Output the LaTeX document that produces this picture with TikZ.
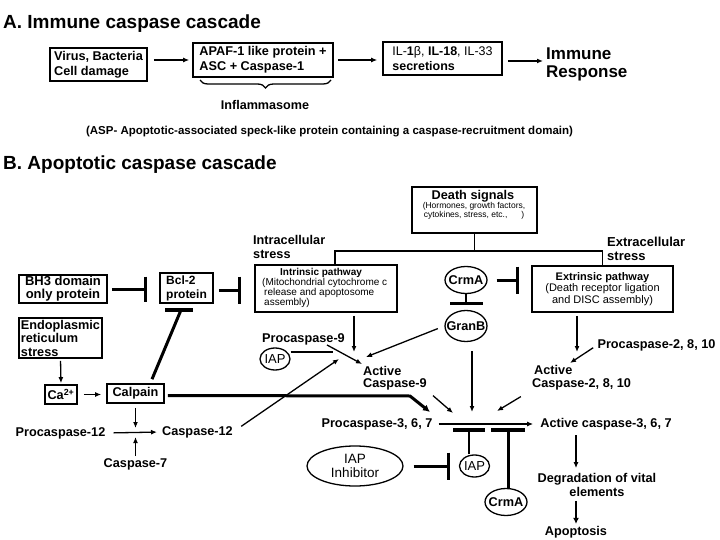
\documentclass[tikz,border=0pt]{standalone}
\usepackage{fontspec}
\setmainfont{Liberation Sans}
\usetikzlibrary{arrows.meta,shapes.geometric,decorations.pathreplacing}
\begin{document}
\begin{tikzpicture}[x=1pt,y=-1pt,
  txt/.style={inner sep=0pt, font=\fontsize{12.7}{14}\selectfont\bfseries},
  reg/.style={inner sep=0pt, font=\fontsize{13}{14}\selectfont},
  box/.style={draw, line width=1.6pt, inner sep=0pt},
  ln/.style={line width=1.3pt},
  arr/.style={line width=1.3pt, -{Latex[length=6pt,width=5pt]}},
  inh/.style={line width=3pt},
  ovl/.style={draw, ellipse, line width=1.3pt, inner sep=0pt}]
\useasboundingbox (0,0) rectangle (720,540);
% ---------- A ----------
\node[anchor=base west, inner sep=0pt, font=\fontsize{19}{20}\selectfont\bfseries] (tA) at (3,29) {A. Immune caspase cascade};
\node[box, txt, font=\fontsize{12.7}{15}\selectfont\bfseries, minimum width=97pt, minimum height=33pt, align=left] (virus) at (98.5,64.5) {Virus, Bacteria\\Cell damage};
\node[box, txt, font=\fontsize{12.7}{15}\selectfont\bfseries, minimum width=140pt, minimum height=34pt, align=left] (apaf) at (263,60) {APAF-1 like protein +\\ASC + Caspase-1};
\node[box, reg, font=\fontsize{12.5}{14.5}\selectfont, minimum width=119pt, minimum height=33pt, align=left] (il) at (442.5,58.5) {IL-\textbf{1}β, \textbf{IL-18}, IL-33\\\textbf{secretions}};
\node[inner sep=0pt, font=\fontsize{17}{18}\selectfont\bfseries, anchor=west, align=left] (immune) at (546,64) {Immune\\Response};
\draw[arr, shorten <=6pt, shorten >=3pt] (virus.east |- apaf.west) -- (apaf.west);
\draw[arr, shorten <=4pt, shorten >=5pt] (apaf.east) -- (apaf.east -| il.west);
\draw[arr, shorten <=5pt, shorten >=3pt] ([yshift=-2.5pt]il.east) -- ([yshift=-2.5pt]il.east -| immune.west);
\draw[line width=1.3pt, decorate, decoration={brace, mirror, amplitude=8pt}] (200,80) -- (331,80);
\node[txt, font=\fontsize{12.6}{14}\selectfont\bfseries] (infl) at (265,105) {Inflammasome};
\node[txt, font=\fontsize{11.5}{13}\selectfont\bfseries] (asp) at (329.5,132) {(ASP- Apoptotic-associated speck-like protein containing a caspase-recruitment domain)};
% ---------- B ----------
\node[anchor=base west, inner sep=0pt, font=\fontsize{19}{20}\selectfont\bfseries] (tB) at (3,170) {B. Apoptotic caspase cascade};
\node[box, minimum width=125pt, minimum height=46pt] (death) at (474.5,210) {};
\node[txt] (dtitle) at (473,196) {Death signals};
\node[inner sep=0pt, align=center, font=\fontsize{8.5}{8.5}\selectfont] (dsub) at (474,211) {(Hormones, growth factors,\\cytokines, stress, etc.,\hspace{14pt})};
\node[box, minimum width=142pt, minimum height=47pt] (intr) at (326,288.5) {};
\node[inner sep=0pt, anchor=north west, align=left, font=\fontsize{10}{10}\selectfont] (intrtxt) at (262,268) {\hspace*{18pt}\textbf{Intrinsic pathway}\\(Mitochondrial cytochrome c\\\hspace*{2pt}release and apoptosome\\\hspace*{2pt}assembly)};
\node[box, minimum width=141pt, minimum height=46pt, align=center, font=\fontsize{11}{11.5}\selectfont] (extr) at (602.5,289) {\textbf{Extrinsic pathway}\\(Death receptor ligation\\and DISC assembly)};
\node[txt, anchor=west, align=left] (intra) at (253,247) {Intracellular\\stress};
\node[txt, font=\fontsize{13}{14}\selectfont\bfseries, anchor=west, align=left] (extra) at (607,248.5) {Extracellular\\stress};
\coordinate (j) at (474.5,251);
\draw[ln] (death.south) -- (j);
\draw[ln] ([xshift=9pt]intr.north) |- (j) -| (extr.north);
% ellipses
\node[ovl, minimum width=42pt, minimum height=27pt, label={[txt]center:CrmA}] (crm1) at (466,280) {};
\node[ovl, minimum width=42pt, minimum height=31pt, label={[txt]center:GranB}] (granB) at (466,326) {};
\node[ovl, minimum width=30pt, minimum height=22pt, label={[reg]center:IAP}] (iap1) at (275,359) {};
\node[ovl, minimum width=30pt, minimum height=22pt, label={[reg]center:IAP}] (iap2) at (474.5,466) {};
\node[ovl, minimum width=42pt, minimum height=27pt, label={[txt]center:CrmA}] (crm2) at (506,502) {};
\node[ovl, minimum width=96pt, minimum height=40pt, label={[reg, font=\fontsize{13.5}{14}\selectfont, align=center]center:{IAP\\Inhibitor}}] (iapinh) at (355,466) {};
\draw[inh, -{Bar[width=27pt]}, shorten <=9pt, shorten >=12pt] (crm1.east) -- (crm1.east -| extr.west);
\draw[line width=2.5pt, -{Bar[width=33pt]}, shorten >=5pt] (crm1.south) -- (granB.north);
% left
\node[box, txt, font=\fontsize{13}{13}\selectfont\bfseries, minimum width=88pt, minimum height=28pt, align=center] (bh3) at (63,289) {BH3 domain\\only protein};
\node[box, txt, font=\fontsize{12}{14}\selectfont\bfseries, minimum width=53pt, minimum height=30pt, align=left] (bcl2) at (186.5,288) {Bcl-2\\protein};
\node[box, txt, font=\fontsize{12.7}{13.5}\selectfont\bfseries, minimum width=83pt, minimum height=40pt, align=left] (er) at (60.5,338) {Endoplasmic\\reticulum\\stress};
\node[box, txt, minimum width=32pt, minimum height=19pt] (ca) at (61,394.5) {Ca\textsuperscript{2+}};
\node[box, txt, minimum width=57pt, minimum height=19pt] (calp) at (135.5,393.5) {Calpain};
\node[txt] (p12) at (60.5,433) {Procaspase-12};
\node[txt] (c12) at (197.5,432) {Caspase-12};
\node[txt] (c7) at (135.5,464) {Caspase-7};
\coordinate (jc) at (135.5,433);
\coordinate (cb) at (181,310);
\draw[inh, -{Bar[width=25pt]}, shorten <=4pt, shorten >=12pt] (bh3.east) -- (bh3.east -| bcl2.west);
\draw[inh, -{Bar[width=27pt]}, shorten <=5pt, shorten >=13pt] ([yshift=-2pt]bcl2.east) -- ([yshift=-2pt]bcl2.east -| intr.west);
\draw[inh] ([xshift=16.5pt,yshift=4pt]calp.north) -- (cb);
\draw[line width=3.5pt] ([xshift=-16pt]cb) -- ([xshift=12pt]cb);
\draw[arr, shorten <=2pt, shorten >=1pt] (er.south) -- (ca.north);
\draw[arr, shorten <=6pt, shorten >=5pt] (ca.east) -- (calp.west |- ca.east);
\draw[arr, shorten <=4pt, shorten >=5pt] (calp.south) -- (jc);
\draw[arr, shorten <=2pt, shorten >=4pt] (c7.north) -- (jc);
\draw[arr, shorten <=8pt, shorten >=5pt] (p12.east) -- (c12.west);
% middle
\node[txt] (pro9) at (303.5,339) {Procaspase-9};
\node[txt, font=\fontsize{12.7}{12.5}\selectfont\bfseries, anchor=west, align=left] (act9) at (363,378) {Active\\Caspase-9};
\node[txt] (pro2) at (656.5,345) {Procaspase-2, 8, 10};
\node[txt, font=\fontsize{12.7}{12.5}\selectfont\bfseries, anchor=west, align=left] (act2) at (532,377.5) {\hspace*{2pt}Active\\Caspase-2, 8, 10};
\node[txt] (pro3) at (377,424) {Procaspase-3, 6, 7};
\node[txt] (act3) at (606,424) {Active caspase-3, 6, 7};
\node[txt, align=center] (deg) at (597,485) {Degradation of vital\\elements};
\node[txt] (apop) at (576,532) {Apoptosis};
\coordinate (a9top) at (354,352);
\coordinate (a9p) at (362,364);
\coordinate (a9c) at (339,359);
\coordinate (a9g) at (366,357);
\coordinate (iapj) at (333,352);
\coordinate (a2top) at (577,352);
\coordinate (a2in) at (570,363);
\coordinate (bend) at (410,396);
\coordinate (in1) at (430,412);
\coordinate (in2) at (453,413);
\coordinate (in3) at (472,412);
\coordinate (in4) at (497,411);
\coordinate (b1) at (469,430);
\coordinate (b2) at (508,430);
\draw[arr, shorten <=10pt] (c12.east) -- (a9c);
\draw[arr, shorten <=3pt] (intr.south -| a9top) -- (a9top);
\draw[arr, shorten <=3pt] (extr.south -| a2top) -- (a2top);
\draw[arr, shorten <=5pt] (pro2.west) -- (a2in);
\draw[arr] ([xshift=-18pt]pro9.south east) -- (a9p);
\draw[ln] ([yshift=7pt]iap1.east) -- (iapj);
\draw[arr, shorten <=7pt] (granB.west) -- (a9g);
\draw[arr, shorten <=8pt] (act9.south east) -- (in2);
\draw[arr, shorten <=9pt] (granB.south -| in3) -- (in3);
\draw[arr, shorten <=13pt] (act2.south west) -- (in4);
\draw[line width=3pt, -{Latex[length=7pt,width=7pt]}, shorten <=3pt] ([yshift=-2pt]calp.east) -- (bend) -- (in1);
\draw[arr, shorten <=6pt, shorten >=7pt] (pro3.east) -- (act3.west);
\draw[line width=2pt] (iap2.north -| b1) -- (b1);
\draw[line width=4pt] ([xshift=-16pt]b1) -- ([xshift=16pt]b1);
\draw[line width=3pt] (crm2.north -| b2) -- (b2);
\draw[line width=4pt] ([xshift=-17pt]b2) -- ([xshift=17pt]b2);
\draw[inh, -{Bar[width=27pt]}, shorten <=10pt, shorten >=9pt] (iapinh.east) -- (iap2.west);
\draw[arr, shorten <=5pt, shorten >=5pt] (act3.south -| apop) -- (deg.north -| apop);
\draw[line width=2.5pt, -{Latex[length=6pt,width=6pt]}, shorten <=4pt, shorten >=2pt] (deg.south -| apop) -- (apop.north);
\end{tikzpicture}
\end{document}
